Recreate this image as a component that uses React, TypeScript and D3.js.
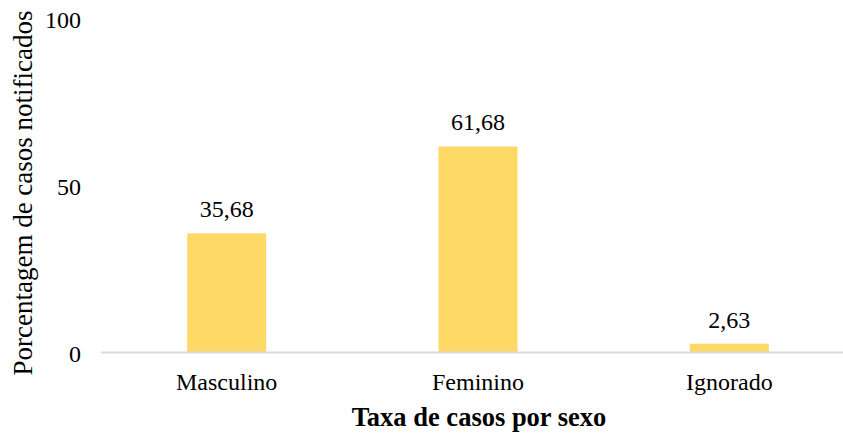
import React from 'react';
import { scaleBand, scaleLinear } from 'd3';

const categories = ['Masculino', 'Feminino', 'Ignorado'];
const values = [35.68, 61.68, 2.63];
const yTicks = [0, 50, 100];

const W = 843;
const H = 435;
const FONT = "'Liberation Serif', 'Times New Roman', Times, serif";

function fmt(v: number) {
    return v.toFixed(2).replace('.', ',');
}

export default function App() {
    const x = scaleBand<string>().domain(categories).range([101, 855]).padding(0);
    const y = scaleLinear().domain([0, 100]).range([352.5, 18.5]);
    const barW = 79;
    const txt = { fontFamily: FONT };

    return (
        <svg
            width={W}
            height={H}
            style={{ position: 'absolute', left: 0, top: 0, background: '#fff', fontFamily: FONT }}
        >
            {yTicks.map((t) => (
                <text
                    key={t}
                    x={81}
                    y={y(t) + 1}
                    textAnchor="end"
                    dominantBaseline="central"
                    fontSize={24}
                    fill="#000"
                    style={txt}
                >
                    {t}
                </text>
            ))}

            {categories.map((c, i) => {
                const cx = (x(c) ?? 0) + x.bandwidth() / 2;
                return (
                    <g key={c}>
                        <rect
                            x={cx - barW / 2}
                            y={y(values[i])}
                            width={barW}
                            height={y(0) - y(values[i])}
                            fill="#FFD966"
                        />
                        <text x={cx} y={y(values[i]) - 16} textAnchor="middle" fontSize={24} fill="#000" style={txt}>
                            {fmt(values[i])}
                        </text>
                        <text x={cx} y={390} textAnchor="middle" fontSize={24} fill="#000" style={txt}>
                            {c}
                        </text>
                    </g>
                );
            })}

            <line x1={101} x2={W} y1={y(0)} y2={y(0)} stroke="#D9D9D9" strokeWidth={2} />

            <text
                transform="translate(32,193) rotate(-90)"
                textAnchor="middle"
                fontSize={27}
                fill="#000"
                style={txt}
            >
                Porcentagem de casos notificados
            </text>

            <text x={479} y={426} textAnchor="middle" fontSize={26.5} fontWeight="bold" fill="#000" style={txt}>
                Taxa de casos por sexo
            </text>
        </svg>
    );
}
